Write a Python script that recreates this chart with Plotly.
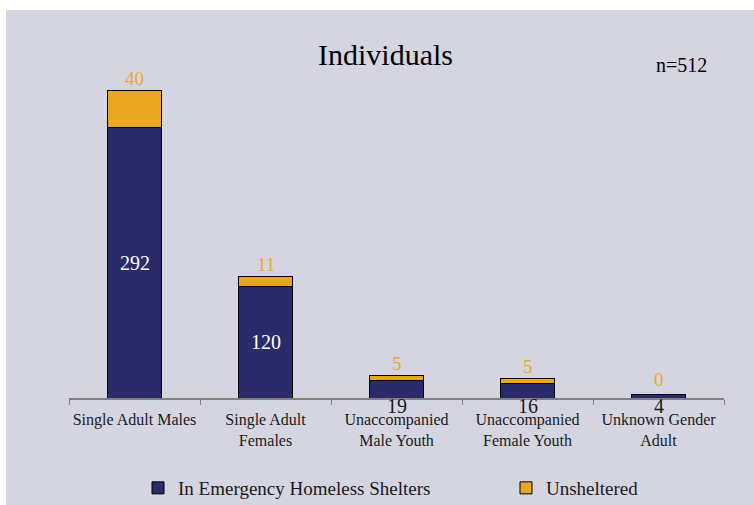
import plotly.graph_objects as go

categories = ["Single Adult Males", "Single Adult<br>Females", "Unaccompanied<br>Male Youth",
              "Unaccompanied<br>Female Youth", "Unknown Gender<br>Adult"]
sheltered = [292, 120, 19, 16, 4]
unsheltered = [40, 11, 5, 5, 0]
series_names = ["In Emergency Homeless Shelters", "Unsheltered"]
title_text = "Individuals"
n_text = "n=512"

NAVY = "#292B6A"
ORANGE = "#E8A723"
BG = "#D5D5E1"
FONT = "Liberation Serif"

W, H = 754, 505
ml, mr, mt, mb = 69, 30, 74, 107
pw, ph = W - ml - mr, H - mt - mb

fig = go.Figure()
fig.add_trace(go.Bar(x=categories, y=sheltered, name=series_names[0], legend="legend",
                     marker=dict(color=NAVY, line=dict(color="black", width=1)), width=0.41))
fig.add_trace(go.Bar(x=categories, y=unsheltered, name=series_names[1], legend="legend2",
                     marker=dict(color=ORANGE, line=dict(color="black", width=1)), width=0.41))

annotations = []
for c, s, u in zip(categories, sheltered, unsheltered):
    if s >= 50:
        annotations.append(dict(x=c, y=s / 2, text=str(s), showarrow=False,
                                font=dict(family=FONT, size=20, color="white")))
    else:
        annotations.append(dict(x=c, y=0, text=str(s), showarrow=False, yanchor="top",
                                yshift=5, font=dict(family=FONT, size=20, color="#1a1a1a")))
    annotations.append(dict(x=c, y=s + u, text=str(u), showarrow=False, yanchor="bottom",
                            yshift=0 if u > 0 else 2,
                            font=dict(family=FONT, size=19, color="#E9AA2C")))

annotations.append(dict(xref="paper", yref="paper", x=(385 - ml) / pw, y=(H - mb - 55) / ph,
                        xanchor="center", yanchor="middle",
                        text=title_text, showarrow=False, font=dict(family=FONT, size=30, color="black")))
annotations.append(dict(xref="paper", yref="paper", x=(681 - ml) / pw, y=(H - mb - 65) / ph,
                        xanchor="center", yanchor="middle",
                        text=n_text, showarrow=False, font=dict(family=FONT, size=20, color="black")))

shapes = [
    dict(type="rect", xref="paper", yref="paper", x0=-ml / pw, x1=(6 - ml) / pw,
         y0=-mb / ph, y1=(H - mb) / ph, fillcolor="white", line=dict(width=0), layer="below"),
    dict(type="rect", xref="paper", yref="paper", x0=-ml / pw, x1=(W - ml) / pw,
         y0=(H - mb - 10) / ph, y1=(H - mb) / ph, fillcolor="white", line=dict(width=0), layer="below"),
]

leg_common = dict(orientation="h", xanchor="left", yanchor="middle", y=(H - mb - 488) / ph,
                  font=dict(family=FONT, size=19, color="#1a1a1a"), bgcolor="rgba(0,0,0,0)")

fig.update_layout(
    width=W, height=H, barmode="stack",
    margin=dict(l=ml, r=mr, t=mt, b=mb, pad=0, autoexpand=False),
    paper_bgcolor=BG, plot_bgcolor=BG,
    font=dict(family=FONT, size=17, color="#1a1a1a"),
    showlegend=True,
    legend=dict(x=(138 - ml) / pw, **leg_common),
    legend2=dict(x=(506 - ml) / pw, **leg_common),
    xaxis=dict(showline=True, linecolor="#808080", linewidth=1.5, ticks="outside", tickson="boundaries",
               ticklen=5, tickcolor="#808080", tickangle=0, ticklabelstandoff=6,
               tickfont=dict(family=FONT, size=16, color="#1a1a1a"), showgrid=False),
    yaxis=dict(visible=False, range=[0, 350], showgrid=False, zeroline=False),
    annotations=annotations, shapes=shapes,
)

fig.write_html("out.html", post_script="document.body.style.margin='0';",
               config={"displayModeBar": False})
